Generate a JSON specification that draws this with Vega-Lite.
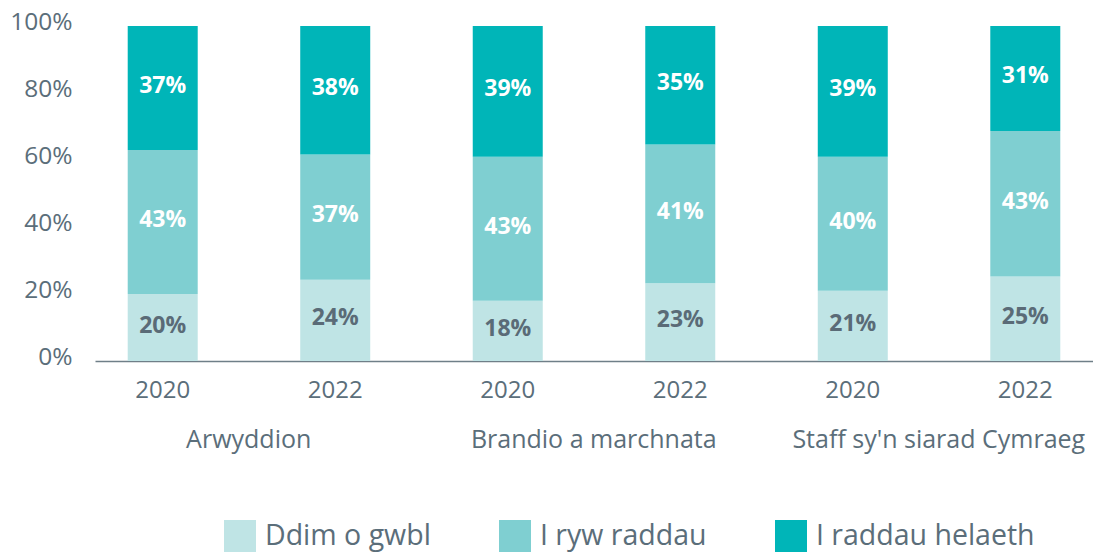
{
  "$schema": "https://vega.github.io/schema/vega-lite/v6.json",
  "width": 998,
  "height": 335,
  "autosize": "none",
  "padding": {"left": 95, "top": 26, "right": 0, "bottom": 194},
  "config": {"font": "Open Sans", "view": {"stroke": null}},
  "datasets": {
    "bars": [
      {"key": "Arwyddion|2020", "series": "Ddim o gwbl", "rank": 1, "v": 0.20},
      {"key": "Arwyddion|2020", "series": "I ryw raddau", "rank": 2, "v": 0.43},
      {"key": "Arwyddion|2020", "series": "I raddau helaeth", "rank": 3, "v": 0.37},
      {"key": "Arwyddion|2022", "series": "Ddim o gwbl", "rank": 1, "v": 0.24},
      {"key": "Arwyddion|2022", "series": "I ryw raddau", "rank": 2, "v": 0.37},
      {"key": "Arwyddion|2022", "series": "I raddau helaeth", "rank": 3, "v": 0.38},
      {"key": "Brandio|2020", "series": "Ddim o gwbl", "rank": 1, "v": 0.18},
      {"key": "Brandio|2020", "series": "I ryw raddau", "rank": 2, "v": 0.43},
      {"key": "Brandio|2020", "series": "I raddau helaeth", "rank": 3, "v": 0.39},
      {"key": "Brandio|2022", "series": "Ddim o gwbl", "rank": 1, "v": 0.23},
      {"key": "Brandio|2022", "series": "I ryw raddau", "rank": 2, "v": 0.41},
      {"key": "Brandio|2022", "series": "I raddau helaeth", "rank": 3, "v": 0.35},
      {"key": "Staff|2020", "series": "Ddim o gwbl", "rank": 1, "v": 0.21},
      {"key": "Staff|2020", "series": "I ryw raddau", "rank": 2, "v": 0.40},
      {"key": "Staff|2020", "series": "I raddau helaeth", "rank": 3, "v": 0.39},
      {"key": "Staff|2022", "series": "Ddim o gwbl", "rank": 1, "v": 0.25},
      {"key": "Staff|2022", "series": "I ryw raddau", "rank": 2, "v": 0.43},
      {"key": "Staff|2022", "series": "I raddau helaeth", "rank": 3, "v": 0.31}
    ],
    "cats": [
      {"key": "Arwyddion|2020", "cat": "Arwyddion"},
      {"key": "Brandio|2020", "cat": "Brandio a marchnata"},
      {"key": "Staff|2020", "cat": "Staff sy'n siarad Cymraeg"}
    ]
  },
  "layer": [
    {
      "data": {"name": "bars"},
      "transform": [
        {"stack": "v", "groupby": ["key"], "sort": [{"field": "rank", "order": "ascending"}], "offset": "normalize", "as": ["y0", "y1"]}
      ],
      "mark": {"type": "bar", "width": 70},
      "encoding": {
        "x": {
          "field": "key", "type": "nominal",
          "scale": {"domain": ["Arwyddion|2020", "Arwyddion|2022", "Brandio|2020", "Brandio|2022", "Staff|2020", "Staff|2022"], "paddingInner": 0.595, "paddingOuter": 0.19},
          "axis": {"title": null, "labelExpr": "split(datum.label, '|')[1]", "labelAngle": 0, "labelFontSize": 24, "labelColor": "#5B6E7A", "labelPadding": 17, "ticks": false, "domainColor": "#6F7F88", "domainWidth": 1.5}
        },
        "y": {
          "field": "y0", "type": "quantitative",
          "scale": {"domain": [0, 1], "nice": false},
          "axis": {"title": null, "format": ".0%", "values": [0, 0.2, 0.4, 0.6, 0.8, 1], "grid": false, "domain": false, "ticks": false, "labelFontSize": 24.5, "labelColor": "#5B6E7A", "labelPadding": 23, "labelOffset": -4}
        },
        "y2": {"field": "y1"},
        "color": {
          "field": "series", "type": "nominal",
          "scale": {"domain": ["Ddim o gwbl", "I ryw raddau", "I raddau helaeth"], "range": ["#BFE4E5", "#7FCFD1", "#00B5B8"]},
          "legend": {"title": null, "orient": "none", "legendX": 129, "legendY": 494, "direction": "horizontal", "symbolType": "square", "symbolSize": 1024, "symbolStrokeWidth": 0, "symbolOpacity": 1, "labelFontSize": 28.5, "labelLimit": 0, "labelColor": "#5B6E7A", "labelOffset": 9, "columnPadding": 68, "padding": 0}
        }
      }
    },
    {
      "data": {"name": "bars"},
      "transform": [
        {"stack": "v", "groupby": ["key"], "sort": [{"field": "rank", "order": "ascending"}], "offset": "normalize", "as": ["y0", "y1"]},
        {"calculate": "(datum.y0 + datum.y1) / 2", "as": "ym"}
      ],
      "mark": {"type": "text", "fontWeight": "bold", "fontSize": 23, "baseline": "middle", "dy": -2},
      "encoding": {
        "x": {"field": "key", "type": "nominal"},
        "y": {"field": "ym", "type": "quantitative"},
        "text": {"field": "v", "format": ".0%"},
        "color": {"condition": {"test": "datum.series === 'Ddim o gwbl'", "value": "#5A6B77"}, "value": "#FFFFFF"}
      }
    },
    {
      "data": {"name": "cats"},
      "mark": {"type": "text", "dx": 86, "fontSize": 25, "color": "#5B6E7A", "baseline": "middle"},
      "encoding": {
        "x": {"field": "key", "type": "nominal"},
        "y": {"datum": -0.236},
        "text": {"field": "cat"}
      }
    }
  ]
}
